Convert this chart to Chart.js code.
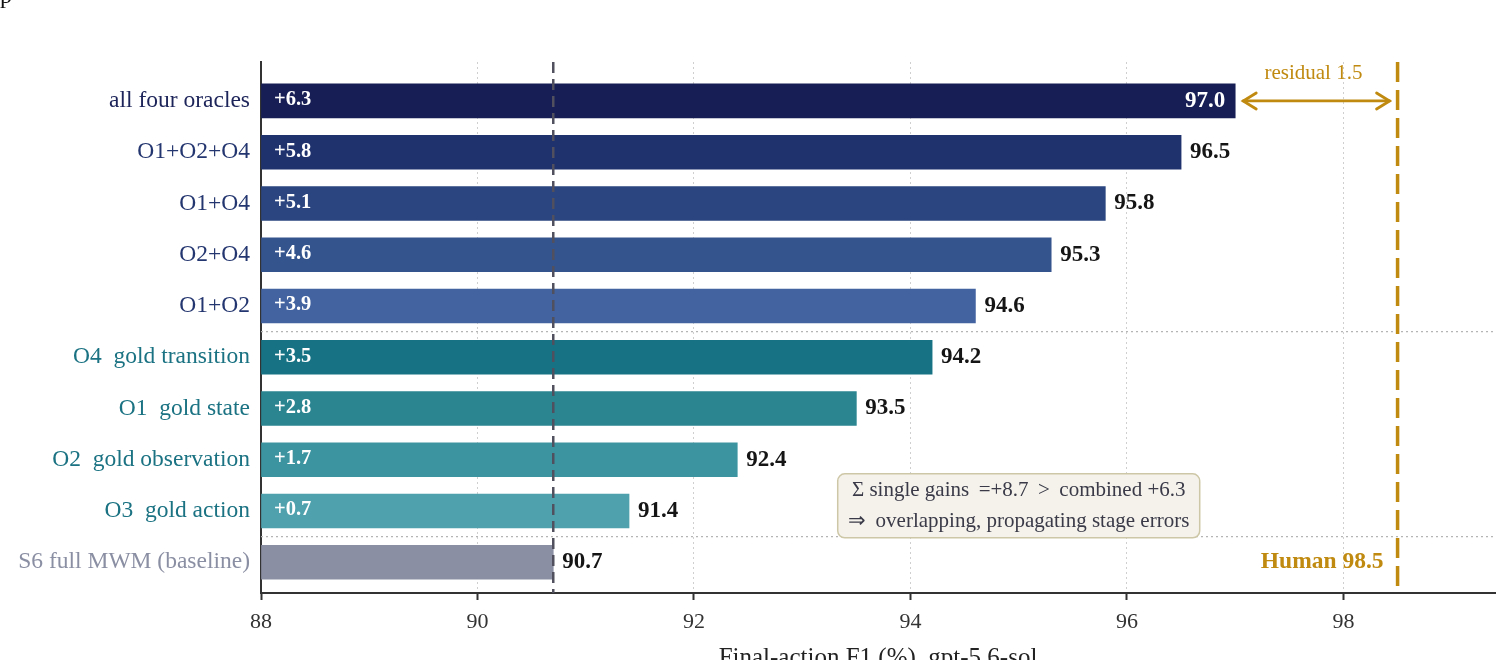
<!DOCTYPE html>
<html>
<head>
<meta charset="utf-8">
<script src="https://cdn.jsdelivr.net/npm/chart.js@4.4.1/dist/chart.umd.min.js"></script>
<style>
  html, body { margin: 0; padding: 0; background: #fff; }
  #wrap { width: 1500px; height: 660px; }
</style>
</head>
<body>
<div id="wrap"><canvas id="chart"></canvas></div>
<script>
// categories top to bottom
const categories = [
    "all four oracles",
    "O1+O2+O4",
    "O1+O4",
    "O2+O4",
    "O1+O2",
    "O4  gold transition",
    "O1  gold state",
    "O2  gold observation",
    "O3  gold action",
    "S6 full MWM (baseline)"
];
const f1Values = [97.0, 96.5, 95.8, 95.3, 94.6, 94.2, 93.5, 92.4, 91.4, 90.7];
const gainLabels = ["+6.3", "+5.8", "+5.1", "+4.6", "+3.9", "+3.5", "+2.8", "+1.7", "+0.7", ""];
const xTicks = [88, 90, 92, 94, 96, 98];
const baselineF1 = 90.7;
const humanF1 = 98.5;
const groupBreaks = [4.5, 8.5];

const barColors = [
    "#161e55", "#1f326e", "#2a457f", "#34548e", "#4263a0",
    "#177384", "#2a8591", "#3c94a0", "#4ea1ad", "#8b8fa3"
];
const labelColors = [
    "#1c2459", "#24366f", "#24366f", "#24366f", "#24366f",
    "#1a7282", "#1a7282", "#1a7282", "#1a7282", "#8b8fa3"
];

const SERIF = '"Liberation Serif", "Times New Roman", serif';
const GOLD = "#c08a10";

function line(ctx, x1, y1, x2, y2) {
    ctx.beginPath();
    ctx.moveTo(x1, y1);
    ctx.lineTo(x2, y2);
    ctx.stroke();
}

const overlay = {
    id: "overlay",
    beforeDatasetsDraw(chart) {
        const { ctx, chartArea: a, scales: { y } } = chart;
        ctx.save();
        ctx.strokeStyle = "#b5b5b5";
        ctx.lineWidth = 1.2;
        ctx.setLineDash([2, 3]);
        groupBreaks.forEach(b => {
            const py = y.getPixelForValue(b);
            line(ctx, a.left, py, a.right, py);
        });
        ctx.restore();
    },
    afterDatasetsDraw(chart) {
        const { ctx, chartArea: a, scales: { x, y } } = chart;
        ctx.save();

        // bar labels
        ctx.textBaseline = "middle";
        f1Values.forEach((v, i) => {
            const py = y.getPixelForValue(i);
            const px = x.getPixelForValue(v);
            if (gainLabels[i]) {
                ctx.font = "bold 20.5px " + SERIF;
                ctx.fillStyle = "#ffffff";
                ctx.textAlign = "left";
                ctx.fillText(gainLabels[i], a.left + 13, py - 1);
            }
            ctx.font = "bold 23px " + SERIF;
            if (i === 0) {
                ctx.fillStyle = "#ffffff";
                ctx.textAlign = "right";
                ctx.fillText(v.toFixed(1), px - 10, py);
            } else {
                ctx.fillStyle = "#151515";
                ctx.textAlign = "left";
                ctx.fillText(v.toFixed(1), px + 9, py);
            }
        });

        // baseline reference
        const bx = x.getPixelForValue(baselineF1);
        ctx.strokeStyle = "#50505f";
        ctx.lineWidth = 2.5;
        ctx.setLineDash([11, 6]);
        line(ctx, bx, a.top, bx, a.bottom);

        // human reference
        const hx = x.getPixelForValue(humanF1);
        ctx.strokeStyle = GOLD;
        ctx.lineWidth = 3.5;
        ctx.setLineDash([20, 8]);
        line(ctx, hx, a.top, hx, a.bottom);
        ctx.setLineDash([]);

        // residual arrow
        const ay = y.getPixelForValue(0);
        const ax1 = x.getPixelForValue(f1Values[0]) + 8;
        const ax2 = hx - 8;
        ctx.lineWidth = 2.8;
        ctx.lineCap = "round";
        line(ctx, ax1, ay, ax2, ay);
        ctx.beginPath();
        ctx.moveTo(ax1 + 13, ay - 8); ctx.lineTo(ax1, ay); ctx.lineTo(ax1 + 13, ay + 8);
        ctx.moveTo(ax2 - 13, ay - 8); ctx.lineTo(ax2, ay); ctx.lineTo(ax2 - 13, ay + 8);
        ctx.stroke();
        ctx.fillStyle = GOLD;
        ctx.font = "21px " + SERIF;
        ctx.textAlign = "center";
        ctx.textBaseline = "alphabetic";
        ctx.fillText("residual 1.5", (ax1 + ax2) / 2 - 3, ay - 22);

        ctx.font = "bold 23.5px " + SERIF;
        ctx.textAlign = "right";
        ctx.textBaseline = "middle";
        ctx.fillText("Human " + humanF1.toFixed(1), hx - 14, y.getPixelForValue(9));

        // note box
        const cx = x.getPixelForValue(95.0);
        const cy = y.getPixelForValue(7.9);
        const w = 362, h = 64;
        ctx.beginPath();
        ctx.roundRect(cx - w / 2, cy - h / 2, w, h, 7);
        ctx.fillStyle = "#f4f2eb";
        ctx.fill();
        ctx.strokeStyle = "#cec7a7";
        ctx.lineWidth = 1.5;
        ctx.stroke();
        ctx.fillStyle = "#3a3a48";
        ctx.font = "21px " + SERIF;
        ctx.textAlign = "center";
        ctx.fillText("\u03A3 single gains \u2009=+8.7 \u2009>\u2009 combined +6.3", cx, cy - 15);
        ctx.fillText("\u21D2\u2009 overlapping, propagating stage errors", cx, cy + 16);

        // x title (runs off the bottom edge)
        ctx.fillStyle = "#222";
        ctx.font = "25px " + SERIF;
        ctx.textAlign = "center";
        ctx.textBaseline = "alphabetic";
        ctx.fillText("Final-action F1 (%), gpt-5.6-sol", (a.left + a.right) / 2, 665);

        // clipped title fragment at the top edge
        ctx.textAlign = "left";
        ctx.font = "24px " + SERIF;
        ctx.fillStyle = "#111";
        ctx.fillText("p", 0, 3);

        ctx.restore();
    }
};

new Chart(document.getElementById("chart"), {
    type: "bar",
    data: {
        datasets: [{
            data: f1Values.map((v, i) => ({ x: v, y: i })),
            backgroundColor: barColors,
            borderWidth: 0,
            barThickness: 34,
            base: 88
        }]
    },
    options: {
        indexAxis: "y",
        responsive: true,
        maintainAspectRatio: false,
        animation: false,
        layout: { padding: { top: 62, right: 5, left: 0, bottom: 0 } },
        plugins: { legend: { display: false }, tooltip: { enabled: false } },
        scales: {
            x: {
                type: "linear",
                min: 88,
                max: 99.4,
                afterBuildTicks: s => { s.ticks = xTicks.map(v => ({ value: v })); },
                afterFit: s => { s.height = 67; },
                grid: {
                    color: "#cfcfcf",
                    lineWidth: 1,
                    drawTicks: true,
                    tickLength: 7,
                    tickColor: "#333",
                    tickWidth: 2
                },
                border: { color: "#333", width: 2, dash: [2, 3] },
                ticks: {
                    color: "#333",
                    padding: 9,
                    font: { family: SERIF, size: 22 }
                }
            },
            y: {
                type: "linear",
                reverse: true,
                offset: false,
                min: -0.76,
                max: 9.6,
                afterBuildTicks: s => { s.ticks = categories.map((c, i) => ({ value: i })); },
                afterFit: s => { s.width = 261; },
                grid: { display: false, drawTicks: false, offset: false },
                border: { color: "#333", width: 2 },
                ticks: {
                    padding: 11,
                    font: { family: SERIF, size: 23.5 },
                    color: c => labelColors[c.index] || "#333",
                    callback: v => categories[v] ?? ""
                }
            }
        }
    },
    plugins: [overlay]
});
</script>
</body>
</html>
